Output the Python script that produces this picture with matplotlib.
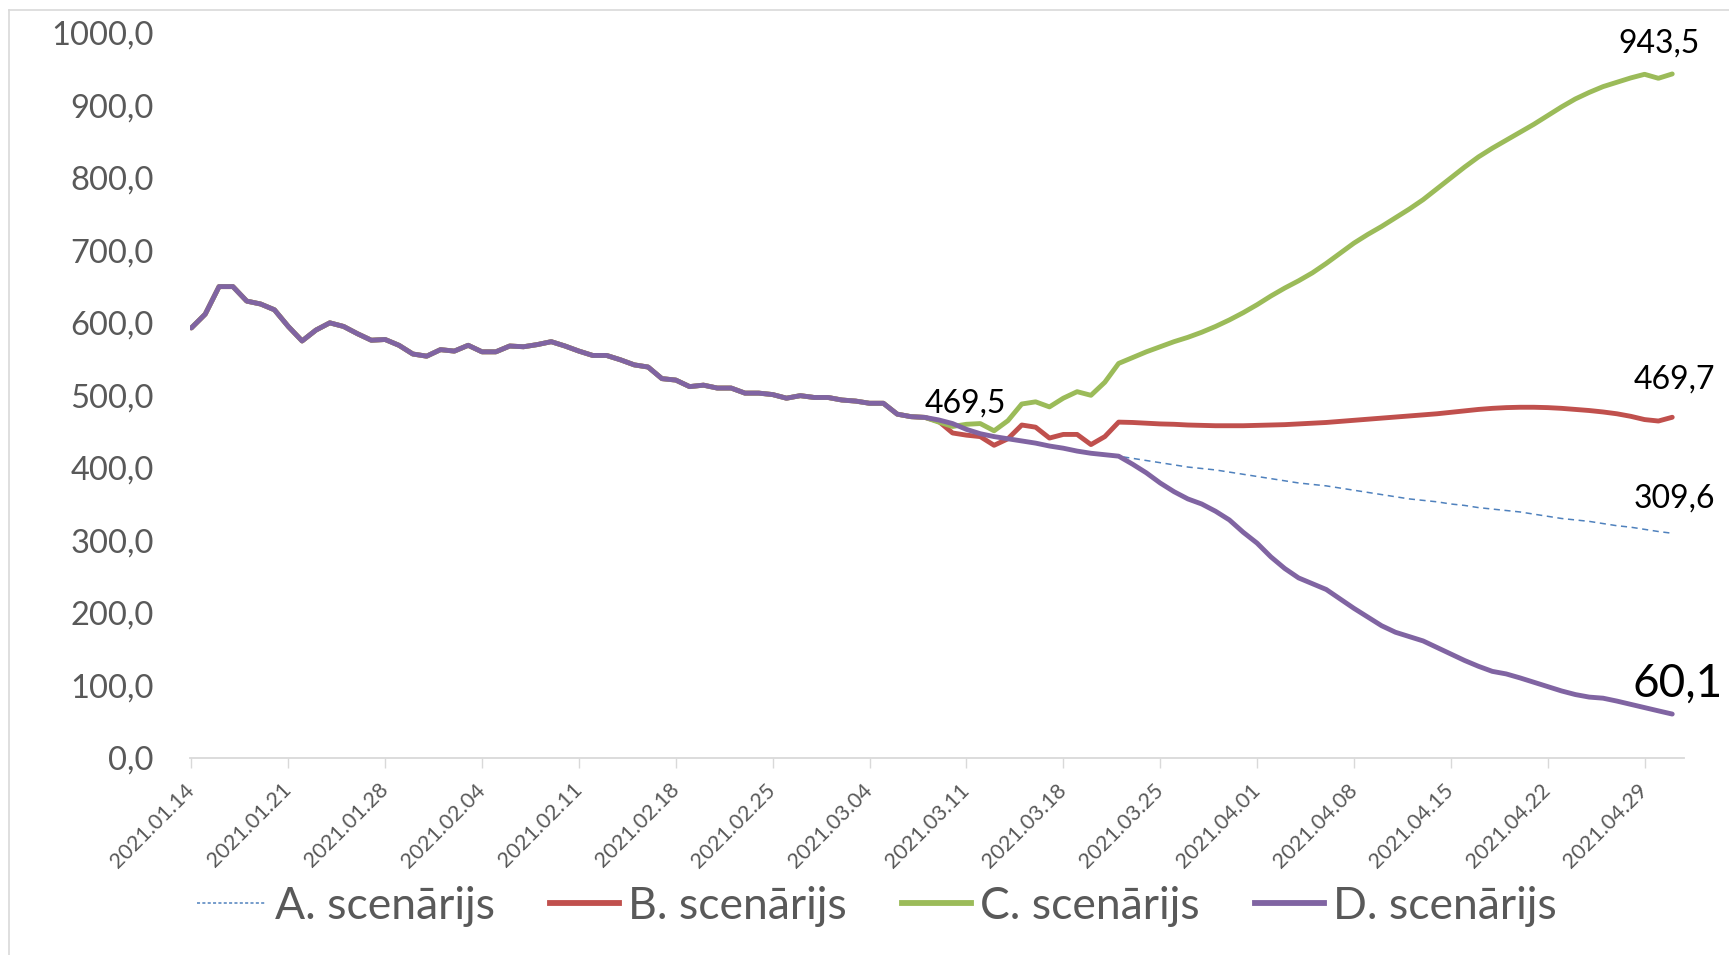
import matplotlib
matplotlib.use("Agg")
import matplotlib.pyplot as plt
from matplotlib.lines import Line2D
import numpy as np

plt.rcParams['font.family'] = ['Lato', 'DejaVu Sans']

# ---- data -------------------------------------------------------------
tick_labels = ["2021.01.14", "2021.01.21", "2021.01.28", "2021.02.04",
               "2021.02.11", "2021.02.18", "2021.02.25", "2021.03.04",
               "2021.03.11", "2021.03.18", "2021.03.25", "2021.04.01",
               "2021.04.08", "2021.04.15", "2021.04.22", "2021.04.29"]

# shared history, 2021.01.14 .. 2021.03.08 (54 days)
common = [593, 612, 650, 650, 630, 626, 618, 595, 575, 590, 600, 595, 585,
          576, 577, 569, 557, 554, 563, 561, 569, 560, 560, 568, 567, 570,
          574, 568, 561, 555, 555, 549, 542, 539, 523, 521, 512, 514, 510,
          510, 503, 503, 501, 496, 499.5, 497, 497, 493.5, 492, 489, 489,
          474, 470.5, 469.5]

# scenario D, 2021.03.09 .. 2021.05.01
d_tail = [466, 461, 453, 447, 443, 440, 437, 434, 430, 427, 423, 420, 418,
          416, 405, 393, 379, 367, 357, 350, 340, 328, 311, 296, 277, 261,
          248, 240, 232, 219, 206, 194, 182, 173, 167, 161, 152, 143, 134,
          126, 119, 115.5, 110, 104, 98, 92, 87, 83.5, 82, 78, 73.5, 69,
          64.5, 60.1]

# scenario B, 2021.03.09 .. 2021.05.01
b_tail = [464, 448, 445, 443, 431, 440, 459, 456, 441, 446, 446, 432, 443,
          463, 462.5, 461.5, 460.5, 460, 459, 458.5, 458, 458, 458, 458.5,
          459, 459.5, 460.5, 461.5, 462.5, 464, 465.5, 467, 468.5, 470,
          471.5, 473, 474.5, 476.5, 478.5, 480.5, 482, 483, 483.5, 483.5,
          483, 482, 480.5, 479, 477, 474.5, 471, 466.5, 464.5, 469.7]

# scenario C, 2021.03.09 .. 2021.05.01
c_tail = [463, 457, 460, 461, 451, 465, 488, 491, 484, 496, 505, 500, 518,
          544, 552, 560, 567, 574, 580, 587, 595, 604, 614, 625, 637, 648,
          658, 669, 682, 696, 710, 722, 733, 745, 757, 770, 785, 800, 815,
          829, 841, 852, 863, 874, 886, 898, 909, 918, 926, 932, 938, 943,
          937.5, 943.5]

# scenario A, 2021.03.23 .. 2021.05.01 (follows D before that)
a_tail = [413, 410, 407, 404, 401, 399, 397, 394, 391, 388, 385, 382, 379,
          377, 375, 372, 369, 366, 363, 360, 357, 355, 353, 350, 348, 345,
          343, 341, 339, 336, 333, 330, 328, 326, 323, 320, 318, 315, 312,
          309.6]

series_names = ["A. scenārijs", "B. scenārijs", "C. scenārijs", "D. scenārijs"]
colors = ["#4F81BD", "#C0504D", "#9BBB59", "#8064A2"]

A = common + d_tail[:14] + a_tail
B = common + b_tail
C = common + c_tail
D = common + d_tail
days = np.arange(len(D))

# ---- figure -----------------------------------------------------------
W, H = 1729, 955
fig = plt.figure(figsize=(W / 100, H / 100), dpi=100)
ax = fig.add_axes([190 / W, 1 - 757.6 / H, (1684 - 190) / W, (757.6 - 33) / H])

ax.plot(days, A, color=colors[0], lw=1.1, linestyle=(0, (4, 3)))
for ser, col in zip([B, C, D], colors[1:]):
    ax.plot(days, ser, color=col, lw=3.5, solid_joinstyle='round',
            solid_capstyle='round')

ax.set_xlim(-0.1, 107.85)
ax.set_ylim(0, 1000)

yt = np.arange(0, 1001, 100)
ax.set_yticks(yt)
ax.set_yticklabels([f"{v:.1f}".replace('.', ',') for v in yt],
                   fontsize=23.5, color="#595959")
ax.tick_params(axis='y', length=0, pad=26)

ax.set_xticks(np.arange(0, len(tick_labels) * 7, 7))
ax.set_xticklabels(tick_labels, rotation=45, ha='right', va='center',
                   rotation_mode='anchor', fontsize=15.5, color="#595959")
ax.tick_params(axis='x', length=7, width=1, color="#D9D9D9", pad=14)

for s in ['top', 'right', 'left']:
    ax.spines[s].set_visible(False)
ax.spines['bottom'].set_color("#D9D9D9")
ax.spines['bottom'].set_linewidth(1.3)

# data labels
last = len(D) - 1
ax.annotate("943,5", (last, C[-1]), xytext=(-13, 30), textcoords='offset pixels',
            ha='center', va='center', fontsize=23, color='black')
ax.annotate("469,7", (last, B[-1]), xytext=(2, 38), textcoords='offset pixels',
            ha='center', va='center', fontsize=23, color='black')
ax.annotate("309,6", (last, A[-1]), xytext=(2, 35), textcoords='offset pixels',
            ha='center', va='center', fontsize=23, color='black')
ax.annotate("60,1", (last, D[-1]), xytext=(5, 30), textcoords='offset pixels',
            ha='center', va='center', fontsize=33, color='black')
ax.annotate("469,5", (53, D[53]), xytext=(0, 14), textcoords='offset pixels',
            ha='left', va='center', fontsize=23, color='black')

# legend
handles = [Line2D([], [], color=colors[0], lw=1.1, linestyle=(0, (2, 1.5))),
           Line2D([], [], color=colors[1], lw=4.2),
           Line2D([], [], color=colors[2], lw=4.2),
           Line2D([], [], color=colors[3], lw=4.2)]
leg = fig.legend(handles, series_names, loc='center', ncol=4,
                 bbox_to_anchor=(877 / W, 1 - 906 / H), frameon=False,
                 fontsize=32, handlelength=1.55, handletextpad=0.2,
                 columnspacing=1.25, borderpad=0)
for t in leg.get_texts():
    t.set_color("#595959")

# chart border
fig.add_artist(Line2D([9 / W, 9 / W], [0, 1 - 10 / H], color="#D9D9D9", lw=1.2,
                      transform=fig.transFigure))
fig.add_artist(Line2D([9 / W, 1], [1 - 10 / H, 1 - 10 / H], color="#D9D9D9", lw=1.2,
                      transform=fig.transFigure))

fig.savefig("out.png", dpi=100)
